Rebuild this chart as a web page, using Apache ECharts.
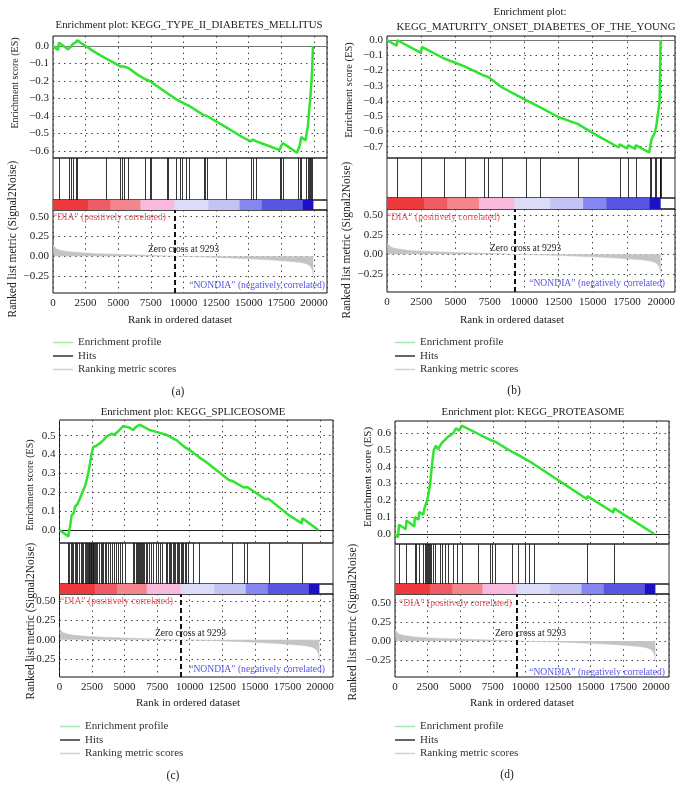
<!DOCTYPE html>
<html><head><meta charset="utf-8">
<script src="https://cdn.jsdelivr.net/npm/echarts@6/dist/echarts.min.js"></script>
<style>html,body{margin:0;padding:0;background:#fff}#c{width:684px;height:787px}</style>
</head><body><div id="c"></div>
<script>
// ---------------- DATA ----------------
const rankMax = 21000;
const rankStep = 2500;
const zeroCross = 9293;
const metricRanks  = [0, 50, 150, 300, 600, 1000, 1500, 2300, 3500, 5000, 7500, 9293, 11000, 13000, 15000, 16500, 17500, 18500, 19000, 19400, 19650, 19800, 19900, 19950];
const metricValues = [0.16, 0.13, 0.11, 0.09, 0.075, 0.063, 0.053, 0.043, 0.033, 0.024, 0.012, 0, -0.007, -0.018, -0.032, -0.045, -0.056, -0.07, -0.08, -0.095, -0.115, -0.145, -0.19, -0.25];
const metricTicks = [0.5, 0.25, 0, -0.25];

const esA = [[0,0],[380,-0.023],[460,0.019],[1150,-0.019],[1200,-0.01],[1300,-0.023],[1354,-0.005],[1532,0.012],[1737,0.02],[1864,0.032],[2100,0.02],[2500,0.0],[3000,-0.025],[3500,-0.048],[4035,-0.07],[4400,-0.085],[5159,-0.117],[5261,-0.115],[5415,-0.117],[5747,-0.125],[6500,-0.165],[7075,-0.19],[7407,-0.2],[7535,-0.205],[8761,-0.27],[8812,-0.268],[9450,-0.305],[9706,-0.315],[9910,-0.322],[10217,-0.335],[10395,-0.34],[11545,-0.395],[11672,-0.397],[11800,-0.4],[13281,-0.465],[14500,-0.52],[15146,-0.545],[15325,-0.535],[15580,-0.545],[16500,-0.57],[17368,-0.595],[17497,-0.57],[17624,-0.555],[18700,-0.61],[18774,-0.608],[18901,-0.57],[19029,-0.52],[19350,-0.54],[19412,-0.535],[19540,-0.455],[19619,-0.38],[19719,-0.3],[19795,-0.22],[19872,-0.12],[19923,0]];
const esB = [[0,0],[700,-0.038],[760,-0.002],[2473,-0.085],[2545,-0.045],[4121,-0.12],[4170,-0.115],[5697,-0.175],[7103,-0.235],[7393,-0.243],[8363,-0.31],[10133,-0.395],[11151,-0.44],[12484,-0.505],[13891,-0.55],[15500,-0.635],[16900,-0.705],[16970,-0.685],[17520,-0.712],[17575,-0.69],[18100,-0.715],[18133,-0.69],[19120,-0.738],[19151,-0.72],[19272,-0.655],[19400,-0.665],[19515,-0.61],[19636,-0.565],[19750,-0.575],[19878,-0.4],[19915,-0.2],[19950,0]];
const esC = [[0,0],[686,-0.035],[720,-0.01],[813,0.02],[940,0.08],[1100,0.09],[1194,0.124],[1400,0.14],[1575,0.168],[1830,0.212],[2000,0.24],[2084,0.265],[2200,0.3],[2338,0.35],[2450,0.4],[2592,0.44],[2800,0.445],[3100,0.46],[3354,0.475],[3608,0.495],[3989,0.51],[4200,0.505],[4498,0.522],[4879,0.55],[5300,0.545],[5641,0.53],[5900,0.548],[6149,0.558],[6500,0.545],[6912,0.53],[7419,0.52],[8182,0.505],[8995,0.475],[9707,0.435],[10266,0.41],[10723,0.385],[11231,0.362],[13010,0.265],[13264,0.26],[14154,0.225],[14408,0.228],[15805,0.163],[16059,0.165],[17584,0.08],[18600,0.035],[18650,0.062],[19870,0]];
const esD = [[0,0],[233,-0.02],[308,0.055],[823,0.028],[877,0.08],[1480,0.045],[1515,0.1],[1800,0.085],[1848,0.13],[2156,0.115],[2284,0.16],[2464,0.2],[2618,0.26],[2720,0.32],[2874,0.44],[2976,0.5],[3130,0.525],[3310,0.505],[3566,0.54],[3822,0.56],[4079,0.58],[4464,0.6],[4669,0.63],[4925,0.615],[5105,0.645],[6284,0.6],[7053,0.57],[7283,0.56],[7668,0.55],[8950,0.49],[9462,0.47],[10360,0.43],[14700,0.208],[14743,0.225],[16740,0.128],[16794,0.152],[19872,0]];

const hitsA = [460,1200,1354,1532,1737,1864,4035,5159,5261,5415,5747,7075,7407,7535,8761,8812,9450,9706,9910,10217,10395,11545,11672,11800,13281,15146,15325,15580,17368,17497,17624,18774,18901,19029,19412,19540,19617,19719,19795,19872];
const hitsB = [727,2473,4170,5697,7103,7393,8363,10133,11151,13891,16970,17575,18133,19151,19272,19515,19636,19878,19900,19915,19930,19945];
const hitsC = [686,762,864,966,1067,1194,1271,1372,1525,1626,1728,1830,1931,2033,2134,2185,2236,2287,2338,2389,2440,2490,2541,2592,2643,2694,2795,2897,2998,3151,3252,3354,3506,3608,3761,3913,4066,4218,4371,4523,4675,4828,5031,5641,5743,5844,5946,6022,6098,6175,6251,6327,6403,6505,6607,6708,6861,7013,7216,7419,7572,7724,7877,8182,8283,8385,8487,8589,8690,8792,8894,8995,9097,9198,9300,9402,9503,9605,9707,9859,10266,10723,13264,14154,14408,16059,18600];
const hitsD = [308,877,1515,1643,1848,2156,2284,2361,2464,2541,2618,2720,2797,2925,3053,3438,3566,3822,4079,4464,4720,5105,6387,7283,7412,7668,8950,9462,9976,10256,10641,14743,16794];

const esTicksA = [0,-0.1,-0.2,-0.3,-0.4,-0.5,-0.6];
const esTicksB = [0,-0.1,-0.2,-0.3,-0.4,-0.5,-0.6,-0.7];
const esTicksC = [0,0.1,0.2,0.3,0.4,0.5];
const esTicksD = [0,0.1,0.2,0.3,0.4,0.5,0.6];

const barBreaks = [0, 2700, 4400, 6700, 9300, 11900, 14300, 16000, 19150, 19920];
const barColors = ['#ee3a3c','#f05c64','#f3858c','#f8b9dc','#dcdcf8','#c3c3f4','#8686f0','#5656e0','#1c10c4'];

const titlesA = ['Enrichment plot: KEGG_TYPE_II_DIABETES_MELLITUS'];
const titlesB = ['Enrichment plot:', 'KEGG_MATURITY_ONSET_DIABETES_OF_THE_YOUNG'];
const titlesC = ['Enrichment plot: KEGG_SPLICEOSOME'];
const titlesD = ['Enrichment plot: KEGG_PROTEASOME'];
const legendNames = ['Enrichment profile', 'Hits', 'Ranking metric scores'];
const panelLabels = ['(a)', '(b)', '(c)', '(d)'];

// ---------------- LAYOUT ----------------
const FONT = '"Liberation Serif","Times New Roman",serif';
const panels = [
  {es: esA, hits: hitsA, ticks: esTicksA, titles: titlesA, label: panelLabels[0],
   left: 53, width: 274, top: 36, h: [122, 42, 10, 83], esR: [-0.64, 0.057], mR: [-0.465, 0.585], zc: '#777',
   titlePos: [[189, 25]], esName: [15, 83, 10], mName: [13, 239, 11.5], rName: [180, 320], dia: [53, 217], non: [325, 285], zero: [148, 249],
   leg: [53, 336], lab: [178, 392]},
  {es: esB, hits: hitsB, ticks: esTicksB, titles: titlesB, label: panelLabels[1],
   left: 387, width: 288, top: 36, h: [122, 40, 11, 83], esR: [-0.774, 0.026], mR: [-0.479, 0.576], zc: '#777',
   titlePos: [[530, 12], [536, 27]], esName: [349, 90, 10.5], mName: [347, 240, 11.5], rName: [512, 320], dia: [387, 217], non: [665, 283], zero: [490, 248],
   leg: [395, 336], lab: [514, 391]},
  {es: esC, hits: hitsC, ticks: esTicksC, titles: titlesC, label: panelLabels[2],
   left: 59.5, width: 273.5, top: 420, h: [123, 41, 10, 83], esR: [-0.069, 0.583], mR: [-0.478, 0.59], zc: '#222',
   titlePos: [[193, 412]], esName: [30, 485, 10], mName: [31, 621, 11.5], rName: [188, 703], dia: [60, 601], non: [325, 669], zero: [155, 633],
   leg: [60, 720], lab: [173, 776]},
  {es: esD, hits: hitsD, ticks: esTicksD, titles: titlesD, label: panelLabels[3],
   left: 395, width: 274, top: 421, h: [123, 40, 10, 83], esR: [-0.06, 0.673], mR: [-0.472, 0.614], zc: '#222',
   titlePos: [[533, 412]], esName: [368, 477, 11], mName: [353, 622, 11.5], rName: [522, 703], dia: [399, 603], non: [665, 672], zero: [495, 633],
   leg: [395, 720], lab: [507, 775]}
];

const dotted = {show: true, lineStyle: {type: [1.5, 4], color: '#444', width: 1}};
const fmt1 = v => (v < -1e-9 ? '\u2212' : '') + Math.abs(v).toFixed(1);
const fmt2 = v => (v < -1e-9 ? '\u2212' : '') + Math.abs(v).toFixed(2);
const fmtRank = v => String(Math.round(v));

const grid = [], xAxis = [], yAxis = [], series = [], legend = [], graphic = [];
const metricData = metricRanks.map((r, i) => [r, metricValues[i]]);
const barData = barColors.map((c, i) => [barBreaks[i], barBreaks[i + 1], i]);

function txt(x, y, text, size, opts) {
  opts = opts || {};
  graphic.push({
    type: 'text', x: x, y: y, rotation: opts.rot || 0, z: 100, silent: true,
    style: {text: text, x: 0, y: 0, fill: opts.color || '#222',
      font: size + 'px ' + FONT,
      align: opts.align || 'center', verticalAlign: 'middle',
      textAlign: opts.align || 'center', textVerticalAlign: 'middle'}
  });
}

panels.forEach((p, pi) => {
  const tops = [p.top, p.top + p.h[0], p.top + p.h[0] + p.h[1], p.top + p.h[0] + p.h[1] + p.h[2]];
  const g0 = pi * 4;
  for (let k = 0; k < 4; k++) {
    grid.push({left: p.left, width: p.width, top: tops[k], height: p.h[k], show: true,
      borderColor: k === 1 ? '#333' : '#111', borderWidth: 1, backgroundColor: 'rgba(0,0,0,0)',
      containLabel: false, outerBoundsMode: 'none'});
  }
  // x axes
  xAxis.push({gridIndex: g0, type: 'value', min: 0, max: rankMax, interval: rankStep,
    axisLine: {show: true, onZero: true, lineStyle: {color: p.zc, width: 1}},
    axisTick: {show: false}, axisLabel: {show: false}, splitLine: dotted});
  xAxis.push({gridIndex: g0 + 1, type: 'value', min: 0, max: rankMax, show: false});
  xAxis.push({gridIndex: g0 + 2, type: 'value', min: 0, max: rankMax, show: false});
  xAxis.push({gridIndex: g0 + 3, type: 'value', min: 0, max: rankMax, interval: rankStep,
    axisLine: {show: false, onZero: false}, axisTick: {show: false},
    axisLabel: {show: true, formatter: fmtRank, fontFamily: FONT, fontSize: 11, color: '#222', margin: 5, showMaxLabel: false},
    splitLine: dotted});
  // y axes
  yAxis.push({gridIndex: g0, type: 'value', min: p.esR[0], max: p.esR[1],
    axisLine: {show: false}, axisTick: {show: false, customValues: p.ticks},
    axisLabel: {show: true, customValues: p.ticks, formatter: fmt1, fontFamily: FONT, fontSize: 11, color: '#222', margin: 4},
    splitLine: dotted});
  yAxis.push({gridIndex: g0 + 1, type: 'value', min: 0, max: 1, show: false});
  yAxis.push({gridIndex: g0 + 2, type: 'value', min: 0, max: 1, show: false});
  yAxis.push({gridIndex: g0 + 3, type: 'value', min: p.mR[0], max: p.mR[1],
    axisLine: {show: false}, axisTick: {show: false, customValues: metricTicks},
    axisLabel: {show: true, customValues: metricTicks, formatter: fmt2, fontFamily: FONT, fontSize: 11, color: '#222', margin: 4},
    splitLine: dotted});

  // series
  series.push({name: legendNames[2], type: 'line', xAxisIndex: g0 + 3, yAxisIndex: g0 + 3, data: metricData,
    showSymbol: false, symbol: 'none', animation: false, z: 2,
    lineStyle: {color: '#c4c4c4', width: 0.5}, itemStyle: {color: '#c4c4c4'},
    areaStyle: {color: '#c4c4c4', opacity: 1},
    markLine: {symbol: 'none', silent: true, animation: false, label: {show: false},
      lineStyle: {type: [5, 3], color: '#111', width: 2}, data: [{xAxis: zeroCross}]}});
  series.push({name: legendNames[1], type: 'custom', xAxisIndex: g0 + 1, yAxisIndex: g0 + 1,
    data: p.hits.map(r => [r, 1]), animation: false, itemStyle: {color: '#222'},
    renderItem: (params, api) => {
      const a = api.coord([api.value(0), 0]);
      const b = api.coord([api.value(0), 1]);
      const x = Math.round(a[0]) + 0.5;
      return {type: 'line', shape: {x1: x, y1: a[1], x2: x, y2: b[1]}, style: {stroke: 'rgba(20,20,20,0.85)', lineWidth: 1}};
    }});
  series.push({name: 'rank colors', type: 'custom', xAxisIndex: g0 + 2, yAxisIndex: g0 + 2,
    data: barData, animation: false,
    renderItem: (params, api) => {
      const a = api.coord([api.value(0), 1]);
      const b = api.coord([api.value(1), 0]);
      return {type: 'rect', shape: {x: a[0], y: a[1], width: b[0] - a[0] + 0.5, height: b[1] - a[1]},
        style: {fill: barColors[api.value(2)]}};
    }});
  series.push({name: legendNames[0], type: 'line', xAxisIndex: g0, yAxisIndex: g0, data: p.es,
    showSymbol: false, symbol: 'none', animation: false, z: 5,
    lineStyle: {color: '#2fe32f', width: 2.5}, itemStyle: {color: '#2fe32f'}});

  legend.push({left: p.leg[0], top: p.leg[1], orient: 'vertical', selectedMode: false, icon: 'rect',
    itemWidth: 20, itemHeight: 1.5, itemGap: 0.5, padding: 0,
    textStyle: {fontFamily: FONT, fontSize: 11, color: '#333', lineHeight: 13},
    data: [{name: legendNames[0], itemStyle: {color: '#a6e8a6'}},
           {name: legendNames[1], itemStyle: {color: '#333'}},
           {name: legendNames[2], itemStyle: {color: '#d0d0d0'}}]});

  // texts
  p.titles.forEach((t, i) => txt(p.titlePos[i][0], p.titlePos[i][1], t, 10.8));
  txt(p.esName[0], p.esName[1], 'Enrichment score (ES)', p.esName[2], {rot: Math.PI / 2});
  txt(p.mName[0], p.mName[1], 'Ranked list metric (Signal2Noise)', p.mName[2], {rot: Math.PI / 2});
  txt(p.rName[0], p.rName[1], 'Rank in ordered dataset', 11);
  txt(p.dia[0], p.dia[1], '\u201cDIA\u201d (positively correlated)', 9.6, {align: 'left', color: '#e8505a'});
  txt(p.non[0], p.non[1], '\u201cNONDIA\u201d (negatively correlated)', 9.6, {align: 'right', color: '#5555e6'});
  txt(p.zero[0], p.zero[1], 'Zero cross at ' + zeroCross, 9.6, {align: 'left', color: '#222'});
  txt(p.lab[0], p.lab[1], p.label, 11.5);
});

const chart = echarts.init(document.getElementById('c'), null, {renderer: 'canvas', width: 684, height: 787});
chart.setOption({animation: false, backgroundColor: '#fff', grid, xAxis, yAxis, series, legend, graphic});
</script></body></html>
